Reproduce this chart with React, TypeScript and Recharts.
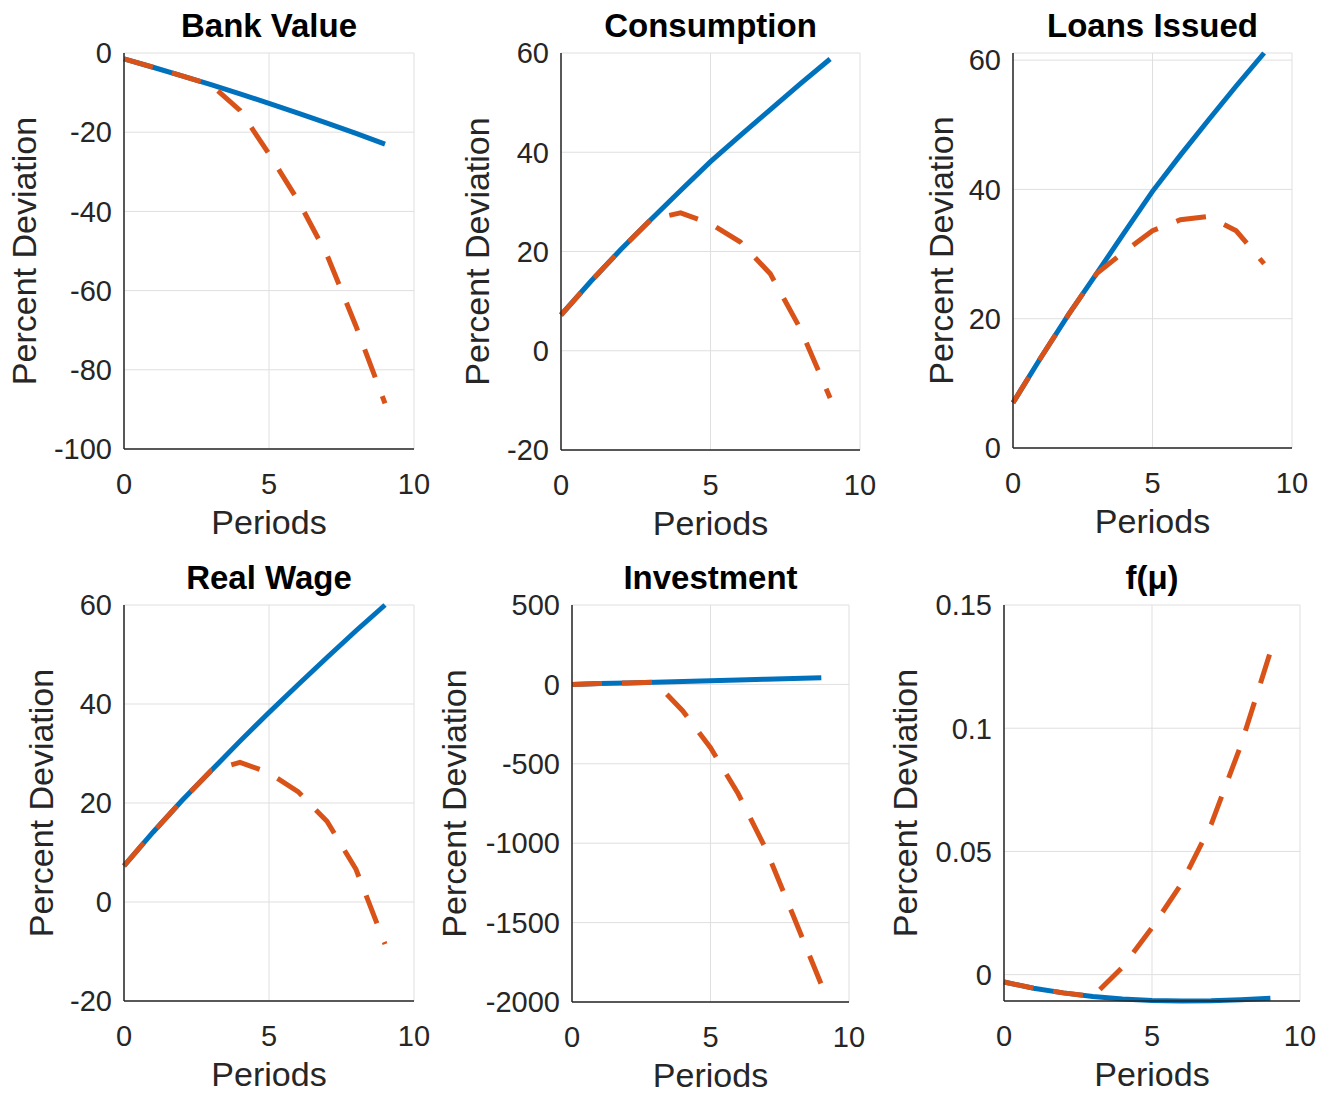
import { LineChart, Line, XAxis, YAxis, CartesianGrid } from "recharts";

// periods 0..9, the x axis runs to 10
const periods = [0, 1, 2, 3, 4, 5, 6, 7, 8, 9];
const xTicks = [0, 5, 10];

const bankValueSolid = [-1.5, -3.6, -5.8, -8.0, -10.3, -12.7, -15.2, -17.7, -20.3, -23.0];
const bankValueDashed = [-1.5, -3.6, -5.8, -8.0, -14.5, -25.5, -37.2, -51, -69, -88.5];

const consumptionSolid = [7.2, 14.0, 20.4, 26.4, 32.3, 38.1, 43.4, 48.6, 53.8, 58.8];
const consumptionDashed = [7.2, 14.0, 20.4, 26.4, 27.8, 25.6, 21.9, 15.5, 4.5, -9.5];

const loansSolid = [7.0, 14.0, 20.7, 27.0, 33.4, 39.7, 45.3, 50.7, 56.0, 61.1];
const loansDashed = [7.0, 14.0, 20.7, 27.0, 30.4, 33.6, 35.3, 35.8, 33.6, 28.5];

const wageSolid = [7.3, 14.1, 20.5, 26.5, 32.5, 38.3, 43.9, 49.4, 54.8, 60.0];
const wageDashed = [7.3, 14.1, 20.5, 26.5, 28.2, 26.1, 22.3, 16.3, 6.6, -8.5];

const investmentSolid = [0, 5, 9, 14, 19, 23, 28, 33, 37, 42];
const investmentDashed = [0, 5, 9, 14, -167, -399, -689, -1037, -1462, -1890];

const fmuSolid = [-0.003, -0.0055, -0.0074, -0.0089, -0.0099, -0.0105, -0.0107, -0.0106, -0.0102, -0.0096];
const fmuDashed = [-0.003, -0.0055, -0.0074, -0.0089, 0.003, 0.019, 0.037, 0.061, 0.093, 0.131];

const FONT = "'Liberation Sans', Arial, Helvetica, sans-serif";
const TEXT = "#262626";
const BLUE = "#0072BD";
const ORANGE = "#D95319";

const AXIS_W = 140;
const AXIS_H = 110;
const TOP = 20;
const RIGHT = 25;

type Panel = {
  title: string;
  solid: number[];
  dashed: number[];
  domain: [number, number];
  ticks: number[];
  box: [number, number, number, number]; // plot area x0, y0, x1, y1
  labelGap: number;
};

const panels: Panel[] = [
  { title: "Bank Value", solid: bankValueSolid, dashed: bankValueDashed, domain: [-100, 0], ticks: [-100, -80, -60, -40, -20, 0], box: [124, 53, 414, 449], labelGap: 100 },
  { title: "Consumption", solid: consumptionSolid, dashed: consumptionDashed, domain: [-20, 60], ticks: [-20, 0, 20, 40, 60], box: [561, 53, 860, 450], labelGap: 84 },
  { title: "Loans Issued", solid: loansSolid, dashed: loansDashed, domain: [0, 61.1], ticks: [0, 20, 40, 60], box: [1013, 53, 1292, 448], labelGap: 72 },
  { title: "Real Wage", solid: wageSolid, dashed: wageDashed, domain: [-20, 60], ticks: [-20, 0, 20, 40, 60], box: [124, 605, 414, 1001], labelGap: 83 },
  { title: "Investment", solid: investmentSolid, dashed: investmentDashed, domain: [-2000, 500], ticks: [-2000, -1500, -1000, -500, 0, 500], box: [572, 605, 849, 1002], labelGap: 118 },
  { title: "f(μ)", solid: fmuSolid, dashed: fmuDashed, domain: [-0.0107, 0.15], ticks: [0, 0.05, 0.1, 0.15], box: [1004, 605, 1300, 1001], labelGap: 99 },
];

const tickStyle = { fill: TEXT, fontSize: 29, fontFamily: FONT };

function IrfPanel({ p }: { p: Panel }) {
  const [x0, y0, x1, y1] = p.box;
  const data = periods.map((x, i) => ({ x, solid: p.solid[i], dashed: p.dashed[i] }));
  return (
    <div style={{ position: "absolute", left: x0 - AXIS_W, top: y0 - TOP }}>
      <LineChart
        width={x1 - x0 + AXIS_W + RIGHT}
        height={y1 - y0 + TOP + AXIS_H}
        data={data}
        margin={{ top: TOP, right: RIGHT, bottom: 0, left: 0 }}
      >
        <CartesianGrid stroke="#dfdfdf" strokeWidth={1} />
        <XAxis
          type="number"
          dataKey="x"
          domain={[0, 10]}
          ticks={xTicks}
          interval={0}
          height={AXIS_H}
          tickSize={0}
          tickLine={false}
          tickMargin={24}
          tick={tickStyle}
          axisLine={{ stroke: TEXT, strokeWidth: 1.5 }}
          label={{ value: "Periods", position: "insideBottom", offset: 25, fill: TEXT, fontSize: 34, fontFamily: FONT }}
        />
        <YAxis
          type="number"
          domain={p.domain}
          ticks={p.ticks}
          interval={0}
          width={AXIS_W}
          tickSize={0}
          tickLine={false}
          tickMargin={12}
          tick={tickStyle}
          axisLine={{ stroke: TEXT, strokeWidth: 1.5 }}
          label={{
            value: "Percent Deviation",
            angle: -90,
            position: "insideLeft",
            offset: AXIS_W - p.labelGap,
            style: { textAnchor: "middle" },
            fill: TEXT,
            fontSize: 34,
            fontFamily: FONT,
          }}
        />
        <Line type="linear" dataKey="solid" stroke={BLUE} strokeWidth={5} dot={false} isAnimationActive={false} />
        <Line type="linear" dataKey="dashed" stroke={ORANGE} strokeWidth={5} strokeDasharray="30 20" dot={false} isAnimationActive={false} />
      </LineChart>
    </div>
  );
}

export default function App() {
  return (
    <div style={{ position: "absolute", left: 0, top: 0, width: 1333, height: 1097, background: "#fff", fontFamily: FONT, overflow: "hidden" }}>
      {panels.map((p) => (
        <IrfPanel key={p.title} p={p} />
      ))}
      <svg width={1333} height={1097} style={{ position: "absolute", left: 0, top: 0, pointerEvents: "none" }}>
        {panels.map((p) => (
          <text
            key={p.title}
            x={(p.box[0] + p.box[2]) / 2}
            y={p.box[1] - 16}
            textAnchor="middle"
            fontWeight="bold"
            fontSize={33}
            fontFamily={FONT}
            fill="#000"
          >
            {p.title}
          </text>
        ))}
      </svg>
    </div>
  );
}
